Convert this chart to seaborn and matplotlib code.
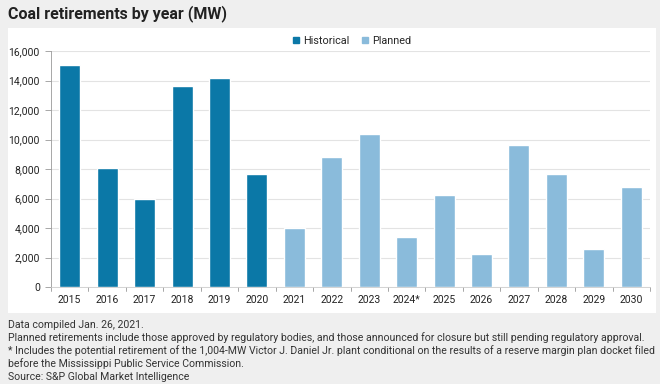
import matplotlib
matplotlib.use("Agg")
import matplotlib.pyplot as plt
from matplotlib.patches import Rectangle
from matplotlib.lines import Line2D
import seaborn as sns
import pandas as pd
import numpy as np

years = ['2015', '2016', '2017', '2018', '2019', '2020', '2021', '2022', '2023',
         '2024*', '2025', '2026', '2027', '2028', '2029', '2030']
values = [15050, 8100, 5950, 13600, 14200, 7650, 4000, 8800, 10350,
          3400, 6250, 2250, 9600, 7650, 2600, 6800]
status = ['Historical'] * 6 + ['Planned'] * 10
yticks = [0, 2000, 4000, 6000, 8000, 10000, 12000, 14000, 16000]
colors = {'Historical': '#0b78a7', 'Planned': '#8abbdb'}

df = pd.DataFrame({'year': years, 'value': values, 'status': status})

sns.set_theme(style='white')
plt.rcParams['font.family'] = ['Roboto', 'DejaVu Sans']

W, H = 660, 384
fig = plt.figure(figsize=(6.6, 3.84), dpi=100)
fig.patch.set_facecolor('#efefef')
fig.patches.append(Rectangle((8 / W, 1 - 313 / H), 648 / W, 285 / H,
                             transform=fig.transFigure, facecolor='white',
                             edgecolor='none', zorder=-10))

ax = fig.add_axes([51 / W, 1 - 287 / H, 599 / W, 236 / H])
ax.set_facecolor('none')
sns.barplot(data=df, x='year', y='value', hue='status', palette=colors,
            dodge=False, width=0.56, ax=ax, legend=False, saturation=1)

ax.set_ylim(0, 16000)
ax.set_xlim(-0.5, len(years) - 0.5)
ax.set_yticks(yticks)
ax.set_yticklabels([f'{v:,}' for v in yticks], fontsize=7.5, color='#222222')
ax.set_xticks(range(len(years)))
ax.set_xticklabels(years, fontsize=7.5, color='#222222')
ax.tick_params(axis='x', length=0, pad=6)
ax.tick_params(axis='y', length=4, width=0.6, color='#999999', pad=4, left=True)
for b in np.arange(-0.5, len(years), 1.0):
    ax.add_line(Line2D([b, b], [0, -0.018], transform=ax.get_xaxis_transform(),
                       color='#999999', lw=0.6, clip_on=False))
ax.yaxis.grid(True, color='#e3e3e3', lw=0.8)
ax.set_axisbelow(True)
for s in ['top', 'right']:
    ax.spines[s].set_visible(False)
ax.spines['left'].set_color('#999999')
ax.spines['left'].set_linewidth(0.6)
ax.spines['bottom'].set_color('#cccccc')
ax.spines['bottom'].set_linewidth(0.6)
ax.set_xlabel('')
ax.set_ylabel('')

handles = [Line2D([], [], marker='s', ls='', markersize=4, color=colors[k]) for k in ['Historical', 'Planned']]
fig.legend(handles, ['Historical', 'Planned'], loc='center', bbox_to_anchor=(352 / W, 1 - 41 / H),
           ncol=2, frameon=False, fontsize=7.8, handlelength=0.6, handletextpad=0.3,
           columnspacing=1.2)

fig.text(8 / W, 1 - 14 / H, 'Coal retirements by year (MW)', fontsize=11.5,
         weight='semibold', color='#222222', va='center', ha='left')

notes = [
    'Data compiled Jan. 26, 2021.',
    'Planned retirements include those approved by regulatory bodies, and those announced for closure but still pending regulatory approval.',
    '* Includes the potential retirement of the 1,004-MW Victor J. Daniel Jr. plant conditional on the results of a reserve margin plan docket filed',
    'before the Mississippi Public Service Commission.',
    'Source: S&P Global Market Intelligence',
]
for i, n in enumerate(notes):
    fig.text(8 / W, 1 - (325 + i * 13.0) / H, n, fontsize=7.55, color='#333333',
             va='center', ha='left')

fig.savefig('out.png', dpi=100, facecolor=fig.get_facecolor())
